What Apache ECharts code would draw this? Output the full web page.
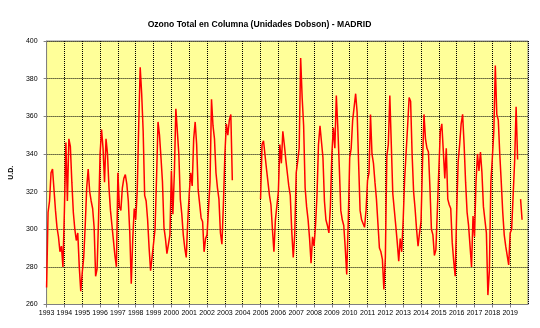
<!DOCTYPE html>
<html>
<head>
<meta charset="utf-8">
<script src="https://cdn.jsdelivr.net/npm/echarts@6/dist/echarts.min.js"></script>
<style>html,body{margin:0;padding:0;background:#fff}#c{width:540px;height:328px}</style>
</head>
<body>
<div id="c"></div>
<script>
const title = 'Ozono Total en Columna (Unidades Dobson) - MADRID';
const yAxisName = 'U.D.';
const firstYear = 1993;
const yTicks = [260, 280, 300, 320, 340, 360, 380, 400];
// Monthly values (Jan..Dec), null = no data
const v1993 = [269, 309, 315, 330, 332, 331, 310, 301, 296, 288, 291, 280];
const v1994 = [310, 346, 315, 348, 344, 325, 309, 300, 294, 298, 280, 267];
const v1995 = [277, 285, 302, 322, 332, 320, 315, 311, 301, 275, 279, 306];
const v1996 = [340, 353, 343, 325, 348, 340, 322, 310, 302, 302, 286, 280];
const v1997 = [330, 312, 310, 322, 327, 329, 324, 315, 298, 271, 295, 311];
const v1998 = [305, 320, 355, 386, 372, 352, 318, 315, 305, 290, 278, 285];
const v1999 = [286, 300, 327, 357, 350, 338, 325, 301, 295, 287, 292, 297];
const v2000 = [331, 308, 330, 364, 352, 340, 316, 308, 297, 290, 285, 304];
const v2001 = [319, 330, 323, 348, 357, 345, 321, 320, 306, 304, 288, 295];
const v2002 = [297, 297, 325, 369, 355, 348, 330, 322, 316, 298, 292, 313];
const v2003 = [340, 356, 350, 358, 361, 326, null, null, null, null, null, null];
const v2004 = [null, null, null, null, null, null, null, null, null, null, null, null];
const v2005 = [316, 345, 347, 348, 332, 325, 318, 313, 300, 288, 305, 306];
const v2006 = [320, 345, 335, 352, 345, 337, 330, 323, 318, 299, 285, 297];
const v2007 = [330, 336, 343, 391, 370, 355, 322, 312, 305, 295, 282, 296];
const v2008 = [291, 302, 318, 345, 355, 354, 338, 315, 305, 302, 298, 312];
const v2009 = [340, 354, 343, 371, 354, 333, 310, 305, 302, 290, 276, 303];
const v2010 = [338, 343, 358, 365, 372, 362, 335, 310, 305, 304, 301, 310];
const v2011 = [326, 330, 361, 340, 335, 325, 316, 303, 290, 288, 284, 268];
const v2012 = [285, 339, 345, 371, 345, 319, 318, 302, 293, 283, 295, 288];
const v2013 = [305, 327, 341, 355, 370, 368, 340, 320, 311, 300, 291, 298];
const v2014 = [304, 335, 361, 348, 343, 341, 322, 300, 297, 286, 289, 310];
const v2015 = [332, 352, 356, 355, 327, 343, 316, 313, 311, 293, 283, 275];
const v2016 = [309, 336, 345, 356, 361, 345, 325, 309, 302, 291, 280, 307];
const v2017 = [296, 325, 340, 331, 341, 330, 312, 311, 298, 265, 278, 325];
const v2018 = [338, 352, 387, 361, 358, 340, 325, 309, 297, 291, 290, 281];
const v2019 = [298, 300, 318, 336, 365, 337, null, 316, 305];

const yearly = [v1993, v1994, v1995, v1996, v1997, v1998, v1999, v2000, v2001, v2002,
  v2003, v2004, v2005, v2006, v2007, v2008, v2009, v2010, v2011, v2012, v2013,
  v2014, v2015, v2016, v2017, v2018, v2019];

const seriesData = [];
yearly.forEach((arr, yi) => {
  arr.forEach((v, mi) => {
    seriesData.push([firstYear + yi + mi / 12, v]);
  });
});

const chart = echarts.init(document.getElementById('c'), null, {renderer: 'canvas'});
const lblFont = '"Liberation Sans Narrow", "Arial Narrow", "Liberation Sans", Arial, sans-serif';
chart.setOption({
  backgroundColor: '#ffffff',
  animation: false,
  title: {
    text: title,
    left: 259.5,
    textAlign: 'center',
    top: 20,
    padding: 0,
    textStyle: {fontFamily: '"Liberation Sans", Arial, sans-serif', fontSize: 8.6, fontWeight: 'bold', color: '#000'}
  },
  grid: {
    left: 31, right: 12, top: 41, bottom: 23.5,
    show: true, backgroundColor: '#FFFF99', borderColor: '#8c8c8c', borderWidth: 1
  },
  xAxis: {
    type: 'value',
    min: 1993, max: 2020, interval: 1,
    axisLine: {show: true, onZero: false, lineStyle: {color: '#808080', width: 1}},
    axisTick: {show: true, length: 3, lineStyle: {color: '#808080'}},
    axisLabel: {
      fontFamily: lblFont, fontSize: 7, color: '#000', margin: 5,
      showMaxLabel: false,
      formatter: v => String(Math.round(v))
    },
    splitLine: {show: true, lineStyle: {color: '#000', type: [1, 1], width: 1}}
  },
  yAxis: {
    type: 'value',
    min: yTicks[0], max: yTicks[yTicks.length - 1], interval: 20,
    name: yAxisName,
    nameLocation: 'middle',
    nameGap: 20,
    nameRotate: 90,
    nameTextStyle: {fontFamily: '"Liberation Sans", Arial, sans-serif', fontSize: 7, fontWeight: 'bold', color: '#000'},
    axisLine: {show: true, lineStyle: {color: '#808080', width: 1}},
    axisTick: {show: true, length: 3, lineStyle: {color: '#808080'}},
    axisLabel: {fontFamily: lblFont, fontSize: 7, color: '#000', margin: 9},
    splitLine: {show: true, lineStyle: {color: '#000', type: [1, 1], width: 1}}
  },
  series: [{
    type: 'line',
    data: seriesData,
    showSymbol: false,
    symbol: 'none',
    connectNulls: false,
    lineStyle: {color: '#FF0000', width: 1.5},
    itemStyle: {color: '#FF0000'}
  }]
});
</script>
</body>
</html>
